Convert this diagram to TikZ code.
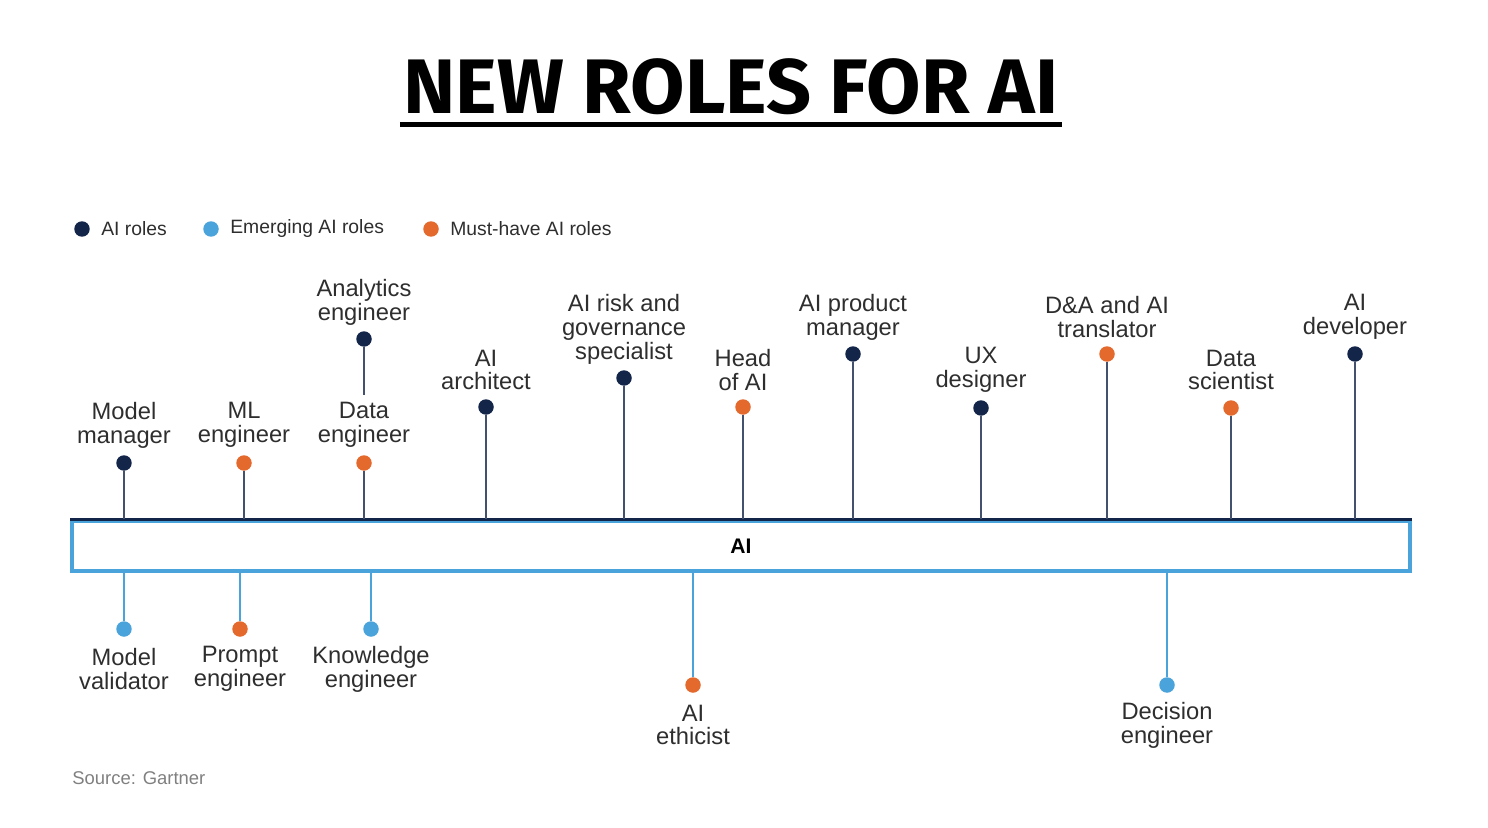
\documentclass[tikz,border=0pt]{standalone}
\usepackage{fontspec}
\setmainfont{Liberation Sans}
\newfontfamily\titlefont{Fira Sans}
\usepackage{tikz}
\definecolor{navy}{HTML}{14254A}
\definecolor{skyblue}{HTML}{4BA3DC}
\definecolor{rust}{HTML}{E4692D}
\definecolor{ink}{HTML}{2E2E2E}

\begin{document}
\begin{tikzpicture}[x=0.02cm, y=-0.02cm,
  dot/.style={circle, inner sep=0pt, minimum size=0.31cm},
  role/.style={text=ink, font=\fontsize{13.5}{13.6}\selectfont, align=center, inner sep=0pt},
  stem/.style={draw=#1, line width=1.2pt}]

\useasboundingbox (0,0) rectangle (1488,828);

% title
\node[font=\titlefont\bfseries\fontsize{44}{44}\selectfont, inner sep=0pt, xscale=1.02] (title) at (731,87) {NEW ROLES FOR AI};
\draw[line width=2.5pt] ([xshift=-2pt, yshift=-6pt]title.base west) -- ([xshift=2pt, yshift=-6pt]title.base east);

% legend
\node[dot, fill=navy] (l1) at (82,229) {};
\node[role, anchor=west, font=\fontsize{11}{11}\selectfont] (t1) at (101,229) {AI roles};
\node[dot, fill=skyblue] (l2) at (211,229) {};
\node[role, anchor=west, font=\fontsize{11}{11}\selectfont] (t2) at (230,229) {Emerging AI roles};
\node[dot, fill=rust] (l3) at (431,229) {};
\node[role, anchor=west, font=\fontsize{11}{11}\selectfont] (t3) at (450,229) {Must-have AI roles};

% bar
\node[draw=skyblue, line width=1.8pt, minimum width=1338*0.02cm, minimum height=50*0.02cm, inner sep=0pt,
  font=\bfseries\fontsize{12}{12}\selectfont] (bar) at (741,546) {AI};
\draw[navy, line width=2pt] (bar.north west) -- (bar.north east);

% roles above
\node[dot, fill=navy] (n1) at (124,463) {};
\node[role] (r1) at (124,425) {Model\\manager};
\node[dot, fill=rust] (n2) at (244,463) {};
\node[role] (r2) at (244,425) {ML\\engineer};
\node[dot, fill=rust] (n3) at (364,463) {};
\node[role] (r3) at (364,425) {Data\\engineer};
\node[dot, fill=navy] (n4) at (364,339) {};
\node[role] (r4) at (364,302) {Analytics\\engineer};
\node[dot, fill=navy] (n5) at (486,407) {};
\node[role] (r5) at (486,370) {AI\\architect};
\node[dot, fill=navy] (n6) at (624,378) {};
\node[role] (r6) at (624,329) {AI risk and\\governance\\specialist};
\node[dot, fill=rust] (n7) at (743,407) {};
\node[role] (r7) at (743,370) {Head\\of AI};
\node[dot, fill=navy] (n8) at (853,354) {};
\node[role] (r8) at (853,317) {AI product\\manager};
\node[dot, fill=navy] (n9) at (981,408) {};
\node[role] (r9) at (981,370) {UX\\designer};
\node[dot, fill=rust] (n10) at (1107,354) {};
\node[role] (r10) at (1107,317) {D\&A and AI\\translator};
\node[dot, fill=rust] (n11) at (1231,408) {};
\node[role] (r11) at (1231,370) {Data\\scientist};
\node[dot, fill=navy] (n12) at (1355,354) {};
\node[role] (r12) at (1355,317) {AI\\developer};

% roles below
\node[dot, fill=skyblue] (m1) at (124,629) {};
\node[role] (s1) at (124,669) {Model\\validator};
\node[dot, fill=rust] (m2) at (240,629) {};
\node[role] (s2) at (240,669) {Prompt\\engineer};
\node[dot, fill=skyblue] (m3) at (371,629) {};
\node[role] (s3) at (371,669) {Knowledge\\engineer};
\node[dot, fill=rust] (m4) at (693,685) {};
\node[role] (s4) at (693,725) {AI\\ethicist};
\node[dot, fill=skyblue] (m5) at (1167,685) {};
\node[role] (s5) at (1167,725) {Decision\\engineer};

% stems
\foreach \n in {n1,n2,n3,n5,n6,n7,n8,n9,n10,n11,n12}
  \draw[stem=navy!80] (\n) -- (\n |- bar.north);
\draw[stem=navy!80] (n4) -- ([yshift=4pt]r3.north);
\foreach \m in {m1,m2,m3,m4,m5}
  \draw[stem=skyblue] (\m) -- (\m |- bar.south);
\foreach \n in {n1,n2,n3,n4,n5,n6,n7,n8,n9,n10,n11,n12,m1,m2,m3,m4,m5}
  \node[dot, fill=none] at (\n) {};

\node[text=gray, anchor=west, font=\fontsize{10.5}{10.5}\selectfont, inner sep=0pt] (src) at (72,778) {Source: Gartner};
\end{tikzpicture}
\end{document}
